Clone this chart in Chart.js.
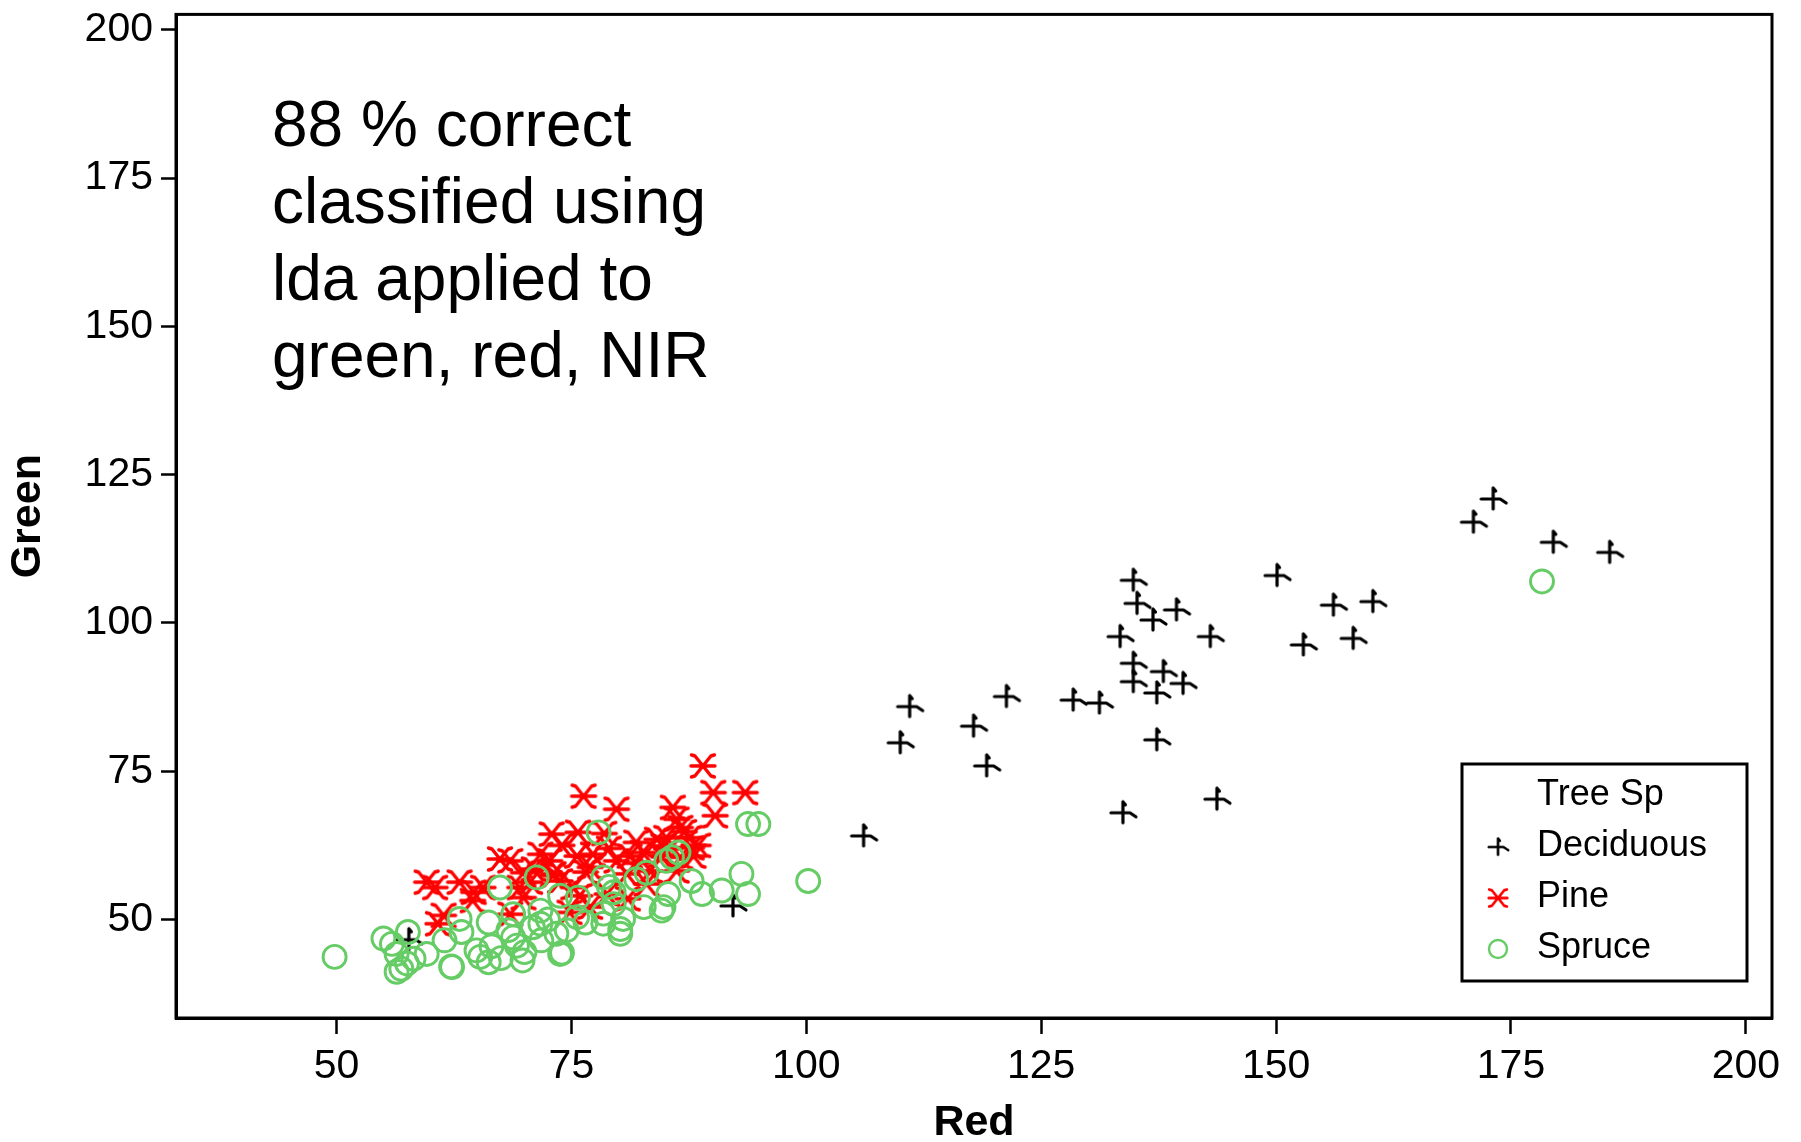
<!DOCTYPE html>
<html>
<head>
<meta charset="utf-8">
<script src="https://cdn.jsdelivr.net/npm/chart.js@4"></script>
<style>
  html, body { margin: 0; padding: 0; background: #fff; }
  #wrap { width: 1801px; height: 1142px; }
</style>
</head>
<body>
<div id="wrap"><canvas id="chart" width="1801" height="1142"></canvas></div>
<script>
// tick labels
const xTicks = [50, 75, 100, 125, 150, 175, 200];
const yTicks = [50, 75, 100, 125, 150, 175, 200];

const legendTitle = 'Tree Sp';
const seriesNames = ['Deciduous', 'Pine', 'Spruce'];

// [Red, Green] pairs
const deciduous = [
  [173.1, 120.9], [171.0, 117.0], [179.5, 113.6], [185.5, 111.9], [150.1, 108.0],
  [134.8, 107.2], [135.2, 103.3], [156.1, 103.0], [160.3, 103.6], [139.4, 102.2],
  [136.9, 100.5], [133.4, 97.7], [143.0, 97.7], [158.2, 97.4], [152.9, 96.3],
  [134.8, 93.2], [138.0, 91.8], [140.1, 89.8], [134.8, 90.1], [137.3, 88.2],
  [121.3, 87.6], [111.0, 85.9], [128.4, 87.0], [131.2, 86.5], [117.8, 82.6],
  [110.0, 79.8], [137.3, 80.3], [119.2, 75.9], [133.7, 68.0], [143.7, 70.3],
  [106.1, 64.1], [92.2, 52.3], [57.7, 46.6]
];

const pine = [
  [89.0, 75.9], [76.3, 70.8], [90.1, 71.4], [93.5, 71.4], [79.8, 68.6],
  [85.8, 68.9], [90.3, 67.5], [86.2, 66.9], [86.6, 65.5], [72.9, 64.4],
  [75.7, 64.7], [81.9, 63.0], [84.1, 63.5], [85.1, 63.8], [87.6, 63.8],
  [84.8, 62.4], [85.5, 62.1], [87.8, 62.1], [82.6, 61.3], [81.2, 60.7],
  [77.3, 61.0], [75.6, 60.7], [71.7, 61.0], [72.7, 59.9], [79.8, 59.9],
  [67.4, 60.2], [68.5, 59.9], [88.0, 60.7], [86.6, 60.5], [77.0, 58.8],
  [73.1, 57.7], [69.9, 57.9], [80.9, 57.7], [83.4, 58.2], [86.2, 58.2],
  [73.8, 56.5], [75.2, 55.4], [69.5, 55.4], [59.6, 56.3], [60.5, 55.4],
  [63.1, 56.3], [64.6, 54.6], [65.6, 55.4], [64.5, 53.2], [69.9, 53.7],
  [75.9, 54.0], [78.8, 54.3], [77.0, 52.1], [68.5, 50.9], [74.8, 51.2],
  [61.4, 50.7], [60.8, 49.3], [70.6, 56.3], [73.0, 57.4], [82.0, 59.5],
  [84.5, 60.8], [79.0, 62.0], [83.0, 56.0], [81.0, 53.5], [76.5, 58.0],
  [71.0, 58.5], [74.0, 62.5], [78.5, 64.5], [88.5, 62.5], [87.0, 64.8]
];

const spruce = [
  [49.8, 43.7], [55.0, 46.8], [55.9, 45.9], [57.6, 47.9], [56.4, 44.2],
  [56.9, 41.7], [56.4, 41.2], [57.5, 42.6], [58.2, 43.4], [59.6, 44.2],
  [61.5, 46.5], [62.3, 42.0], [63.1, 50.1], [63.3, 47.9], [64.9, 44.8],
  [65.3, 43.7], [66.2, 49.5], [66.2, 42.8], [67.4, 55.4], [68.8, 50.9],
  [68.3, 48.2], [68.8, 47.0], [69.2, 45.6], [69.8, 43.1], [71.3, 57.1],
  [71.7, 51.5], [70.9, 48.7], [71.8, 46.5], [71.7, 49.3], [73.8, 54.0],
  [73.4, 47.6], [74.5, 48.2], [73.8, 44.2], [75.7, 53.7], [75.6, 50.4],
  [77.9, 64.7], [78.4, 57.1], [79.5, 54.6], [78.4, 51.0], [78.4, 49.3],
  [80.5, 50.1], [80.2, 48.4], [80.2, 47.6], [79.5, 52.6], [81.9, 56.8],
  [83.0, 57.9], [85.1, 59.9], [84.8, 52.1], [82.7, 52.1], [85.7, 60.5],
  [86.4, 61.3], [85.3, 54.3], [84.6, 51.5], [87.8, 56.5], [88.9, 54.3],
  [91.0, 54.9], [93.1, 57.7], [93.8, 54.3], [93.8, 66.1], [94.9, 66.1],
  [100.2, 56.5], [178.3, 107.0], [66.5, 45.5], [72.5, 50.0], [76.5, 49.5],
  [70.0, 44.5], [67.5, 43.5], [79.0, 55.5], [74.0, 44.4], [62.2, 42.1]
];

const noteLines = ['88 % correct', 'classified using', 'lda applied to', 'green, red, NIR'];

const GREEN = '#66cc66';
const RED = '#ff0000';
const FONT = "'Liberation Sans', Arial, sans-serif";

// marker glyphs drawn once on small canvases, used as point styles
function makeGlyph(color, lw, draw) {
  const c = document.createElement('canvas');
  c.width = 36; c.height = 36;
  const g = c.getContext('2d');
  g.translate(18, 18);
  g.strokeStyle = color;
  g.lineWidth = lw;
  g.lineCap = 'round';
  g.lineJoin = 'round';
  g.beginPath();
  draw(g);
  g.stroke();
  return c;
}

const plusGlyph = makeGlyph('#000', 3.2, g => {
  g.moveTo(0, -11); g.lineTo(0, 10);
  g.moveTo(0, -11); g.lineTo(2.5, -8);
  g.moveTo(-12, 0); g.lineTo(7, 0); g.lineTo(13, 4);
});

const starGlyph = makeGlyph(RED, 3.4, g => {
  g.moveTo(-12, 0); g.lineTo(12, 0);
  g.moveTo(-8, -10); g.lineTo(8, 10);
  g.moveTo(-8, 10); g.lineTo(8, -10);
  g.moveTo(8, -10); g.lineTo(11.5, -11);
  g.moveTo(-8, -10); g.lineTo(-11.5, -11);
  g.moveTo(8, 10); g.lineTo(11.5, 11);
  g.moveTo(-8, 10); g.lineTo(-11.5, 11);
});

function toPoints(arr) {
  return arr.map(p => ({ x: p[0], y: p[1] }));
}

// frame, note text and legend box
const extras = {
  id: 'extras',
  afterDraw(chart) {
    const ctx = chart.ctx;
    const a = chart.chartArea;
    ctx.save();
    ctx.strokeStyle = '#000';
    ctx.lineWidth = 3;
    ctx.strokeRect(a.left, a.top, a.right - a.left, a.bottom - a.top);

    ctx.fillStyle = '#000';
    ctx.font = '64px ' + FONT;
    ctx.textBaseline = 'alphabetic';
    noteLines.forEach((t, i) => ctx.fillText(t, 272, 146 + i * 77));

    // legend
    ctx.lineWidth = 3;
    ctx.strokeRect(1462, 764, 285, 217);
    ctx.font = '36px ' + FONT;
    ctx.fillText(legendTitle, 1537, 805);
    chart.data.datasets.forEach((ds, i) => {
      const cy = 847 + i * 51;
      ctx.fillStyle = '#000';
      ctx.fillText(ds.label, 1537, 856 + i * 51);
      if (ds.pointStyle === 'circle') {
        ctx.beginPath();
        ctx.strokeStyle = ds.borderColor;
        ctx.lineWidth = 2.4;
        ctx.arc(1498, cy, 9, 0, Math.PI * 2);
        ctx.stroke();
      } else {
        ctx.drawImage(ds.pointStyle, 1498 - 14, cy - 14, 28, 28);
      }
    });
    ctx.restore();
  }
};

const tickFont = { family: FONT, size: 41 };
const titleFont = { family: FONT, size: 43, weight: 'bold', lineHeight: 1 };

new Chart(document.getElementById('chart'), {
  type: 'scatter',
  data: {
    datasets: [
      { label: seriesNames[0], data: toPoints(deciduous), pointStyle: plusGlyph, pointRadius: 12, order: 3 },
      { label: seriesNames[1], data: toPoints(pine), pointStyle: starGlyph, pointRadius: 12, order: 2 },
      { label: seriesNames[2], data: toPoints(spruce), pointStyle: 'circle', pointRadius: 11.5,
        borderColor: GREEN, backgroundColor: 'rgba(0,0,0,0)', borderWidth: 2.9, order: 1 }
    ]
  },
  options: {
    responsive: false,
    animation: false,
    layout: { padding: { left: 0, right: 29, top: 10, bottom: 0 } },
    plugins: { legend: { display: false }, tooltip: { enabled: false } },
    scales: {
      x: {
        type: 'linear',
        min: 32.92,
        max: 202.78,
        afterBuildTicks: s => { s.ticks = xTicks.map(v => ({ value: v })); },
        afterFit: s => { s.height = 124; s.paddingLeft = 0; s.paddingRight = 0; },
        grid: { drawOnChartArea: false, drawTicks: true, tickLength: 16, tickWidth: 2.5, tickColor: '#000' },
        border: { display: true, color: '#000', width: 3 },
        ticks: { color: '#000', font: tickFont, padding: 8, maxRotation: 0, autoSkip: false },
        title: { display: true, text: 'Red', color: '#000', font: titleFont, padding: { top: 0, bottom: -3 } }
      },
      y: {
        type: 'linear',
        min: 33.4,
        max: 202.6,
        afterBuildTicks: s => { s.ticks = yTicks.map(v => ({ value: v })); },
        afterFit: s => { s.width = 176; s.paddingTop = 0; s.paddingBottom = 0; },
        grid: { drawOnChartArea: false, drawTicks: true, tickLength: 15, tickWidth: 2.5, tickColor: '#000' },
        border: { display: true, color: '#000', width: 3 },
        ticks: { color: '#000', font: tickFont, padding: 8, autoSkip: false },
        title: { display: true, text: 'Green', color: '#000', font: titleFont, padding: { top: 7, bottom: 0 } }
      }
    }
  },
  plugins: [extras]
});
</script>
</body>
</html>
